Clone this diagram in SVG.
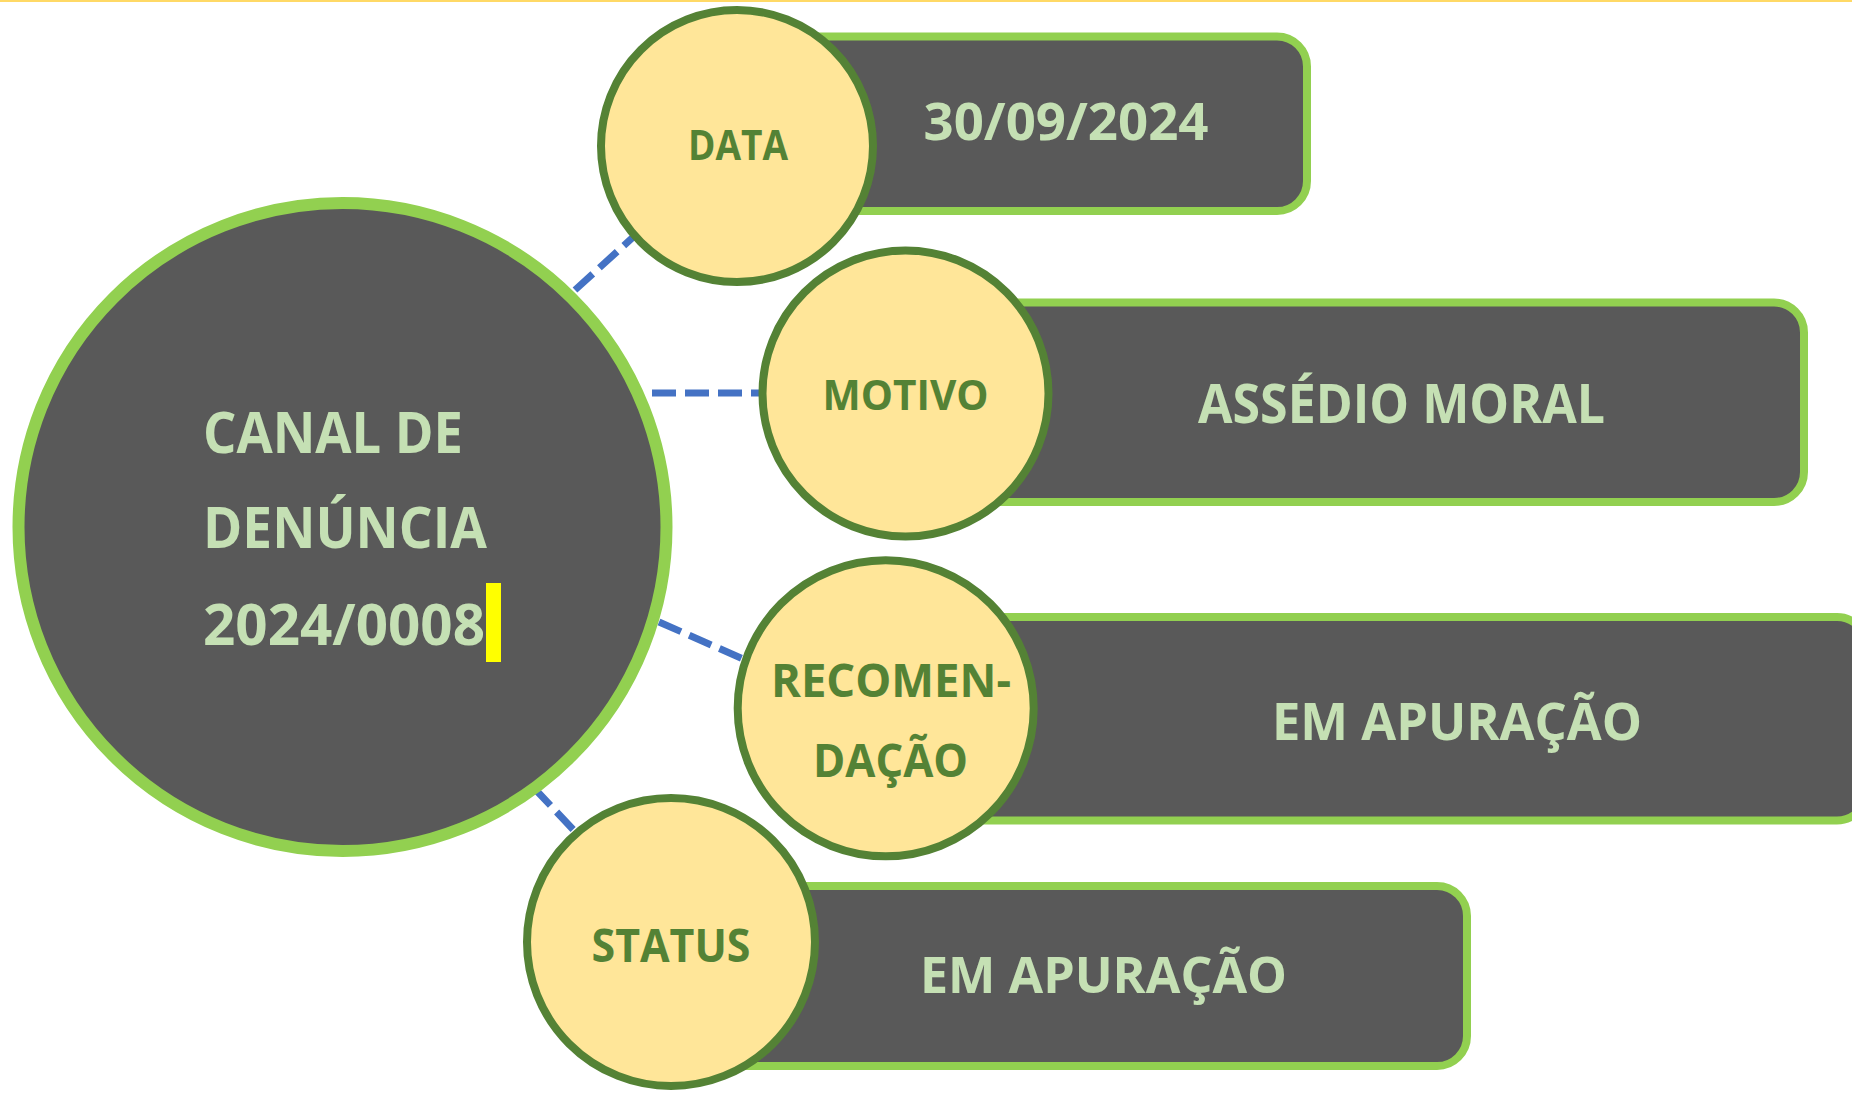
<svg xmlns="http://www.w3.org/2000/svg" width="1852" height="1095" viewBox="0 0 1852 1095">
<style>
.box{fill:#595959;stroke:#92D050;stroke-width:8}
.bub{fill:#FFE699;stroke:#548235;stroke-width:8}
.lbl{font-family:"Open Sans","Liberation Sans",sans-serif;font-weight:bold;fill:#548235;text-anchor:middle}
.val{font-family:"Open Sans","Liberation Sans",sans-serif;font-weight:bold;fill:#C5E0B4;text-anchor:middle}
.main{font-family:"Open Sans","Liberation Sans",sans-serif;font-weight:bold;fill:#C5E0B4}
.con{stroke:#4472C4;stroke-width:7;stroke-dasharray:24 9;fill:none}
</style>
<rect x="0" y="0" width="1852" height="2" fill="#FFD966"/>
<g id="connectors">
<line class="con" x1="575" y1="290" x2="642" y2="229"/>
<line class="con" x1="652" y1="393" x2="765" y2="393"/>
<line class="con" x1="659" y1="622" x2="750" y2="662"/>
<line class="con" x1="534" y1="788" x2="583" y2="840"/>
</g>
<g id="canal">
<circle cx="342.5" cy="527" r="324" fill="#595959" stroke="#92D050" stroke-width="12"/>
<text class="main" x="203" y="453" font-size="57" textLength="260" lengthAdjust="spacingAndGlyphs">CANAL DE</text>
<text class="main" x="203" y="548" font-size="57" textLength="284" lengthAdjust="spacingAndGlyphs">DENÚNCIA</text>
<text class="main" x="203" y="645" font-size="57" textLength="282" lengthAdjust="spacingAndGlyphs">2024/0008</text>
<rect x="486" y="583" width="15" height="79" fill="#FFFF00"/>
</g>
<g id="data">
<rect class="box" x="737" y="36.5" width="570" height="174.5" rx="30"/>
<circle class="bub" cx="737" cy="146" r="136"/>
<text class="lbl" x="738" y="160" font-size="42" textLength="100" lengthAdjust="spacingAndGlyphs">DATA</text>
<text class="val" x="1066" y="140" font-size="52" textLength="285" lengthAdjust="spacingAndGlyphs">30/09/2024</text>
</g>
<g id="motivo">
<rect class="box" x="905" y="302.5" width="899" height="199.5" rx="30"/>
<circle class="bub" cx="905.5" cy="393.5" r="143"/>
<text class="lbl" x="905.5" y="410" font-size="42" textLength="166" lengthAdjust="spacingAndGlyphs">MOTIVO</text>
<text class="val" x="1401.5" y="423" font-size="54" textLength="407" lengthAdjust="spacingAndGlyphs">ASSÉDIO MORAL</text>
</g>
<g id="recomendacao">
<rect class="box" x="886" y="617" width="981" height="203.5" rx="30"/>
<circle class="bub" cx="885.7" cy="708.3" r="148"/>
<text class="lbl" x="891" y="697" font-size="47" textLength="240" lengthAdjust="spacingAndGlyphs">RECOMEN-</text>
<text class="lbl" x="890.5" y="777" font-size="46" textLength="155" lengthAdjust="spacingAndGlyphs">DAÇÃO</text>
<text class="val" x="1457" y="740" font-size="52" textLength="370" lengthAdjust="spacingAndGlyphs">EM APURAÇÃO</text>
</g>
<g id="status">
<rect class="box" x="671" y="886" width="796" height="180" rx="30"/>
<circle class="bub" cx="671" cy="942" r="144"/>
<text class="lbl" x="671" y="962" font-size="46" textLength="159" lengthAdjust="spacingAndGlyphs">STATUS</text>
<text class="val" x="1103.5" y="993" font-size="50" textLength="367" lengthAdjust="spacingAndGlyphs">EM APURAÇÃO</text>
</g>
</svg>
